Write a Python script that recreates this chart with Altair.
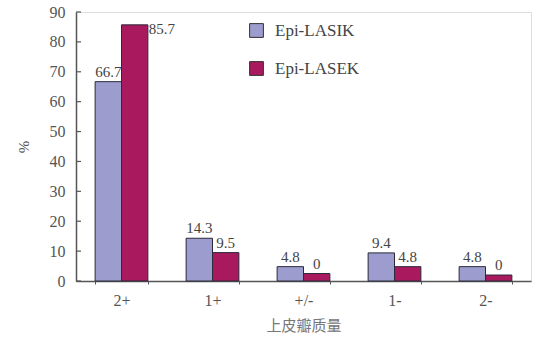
import altair as alt
import pandas as pd

categories = ["2+", "1+", "+/-", "1-", "2-"]
series = ["Epi-LASIK", "Epi-LASEK"]
lasik_values = [66.7, 14.3, 4.8, 9.4, 4.8]
lasek_values = [85.7, 9.5, 2.5, 4.8, 2.0]   # bar heights as drawn
lasik_labels = ["66.7", "14.3", "4.8", "9.4", "4.8"]
lasek_labels = ["85.7", "9.5", "0", "4.8", "0"]
y_ticks = [0, 10, 20, 30, 40, 50, 60, 70, 80, 90]
colors = ["#9C9CCE", "#A8195E"]

rows = []
for i, c in enumerate(categories):
    rows.append({"category": c, "series": series[0], "value": lasik_values[i], "label": lasik_labels[i]})
    rows.append({"category": c, "series": series[1], "value": lasek_values[i], "label": lasek_labels[i]})
df = pd.DataFrame(rows)

serif = "'Liberation Serif', 'Times New Roman', serif"
grey = "#555555"

yscale = alt.Scale(domain=[0, 90], nice=False)
yaxis = alt.Axis(title="%", values=y_ticks, ticks=False, grid=False,
                 labelFont=serif, labelFontSize=16, labelColor=grey, labelPadding=11,
                 titleFont=serif, titleFontSize=15, titleFontWeight="normal",
                 titleColor=grey, titlePadding=18,
                 domainColor=grey, domainWidth=1.5)
x = alt.X("category:N", sort=categories,
          scale=alt.Scale(paddingInner=0.42, paddingOuter=0.21),
          axis=alt.Axis(title="上皮瓣质量", labelAngle=0, tickBand="extent", tickSize=3,
                        labelFont=serif, labelFontSize=16, labelColor=grey, labelPadding=8,
                        titleFont="Noto Sans CJK SC", titleFontSize=15, titleFontWeight="normal",
                        titleColor="#777777", titlePadding=10,
                        domainColor=grey, domainWidth=1.5, tickColor=grey))
xo = alt.XOffset("series:N", sort=series)

base = alt.Chart(df)

bars = base.mark_bar(stroke="#2a2a3a", strokeWidth=1).encode(
    x=x, xOffset=xo,
    y=alt.Y("value:Q", scale=yscale, axis=yaxis),
    color=alt.Color("series:N", sort=series,
                    scale=alt.Scale(domain=series, range=colors),
                    legend=alt.Legend(title=None, orient="none", legendX=172, legendY=10,
                                      symbolType="square", symbolSize=190,
                                      symbolStrokeColor="#333333", symbolStrokeWidth=1,
                                      symbolOpacity=1,
                                      labelFont=serif, labelFontSize=17, labelColor="#444444",
                                      labelOffset=10, rowPadding=19)),
)

text_mid = base.transform_filter("datum.value <= 80").mark_text(
    font=serif, fontSize=15, color="#444444", baseline="bottom", dy=-2
).encode(x=x, xOffset=xo, y=alt.Y("value:Q", scale=yscale, axis=yaxis), text="label:N")

text_top = base.transform_filter("datum.value > 80").mark_text(
    font=serif, fontSize=15, color="#444444", baseline="middle", align="left", dx=14, dy=4
).encode(x=x, xOffset=xo, y=alt.Y("value:Q", scale=yscale, axis=yaxis), text="label:N")

ticks = alt.Chart(pd.DataFrame({"t": y_ticks})).mark_rule(color=grey, strokeWidth=1.2).encode(
    y=alt.Y("t:Q", scale=yscale, axis=yaxis),
    x=alt.value(0), x2=alt.value(5),
)

chart = alt.layer(bars, text_mid, text_top, ticks).properties(
    width=455, height=269,
    autosize=alt.AutoSizeParams(type="none"),
    padding={"left": 76, "top": 12, "right": 7, "bottom": 58},
).configure_view(stroke=None).configure(background="white")

chart.save("out.html", embed_options={"renderer": "svg", "actions": False})
